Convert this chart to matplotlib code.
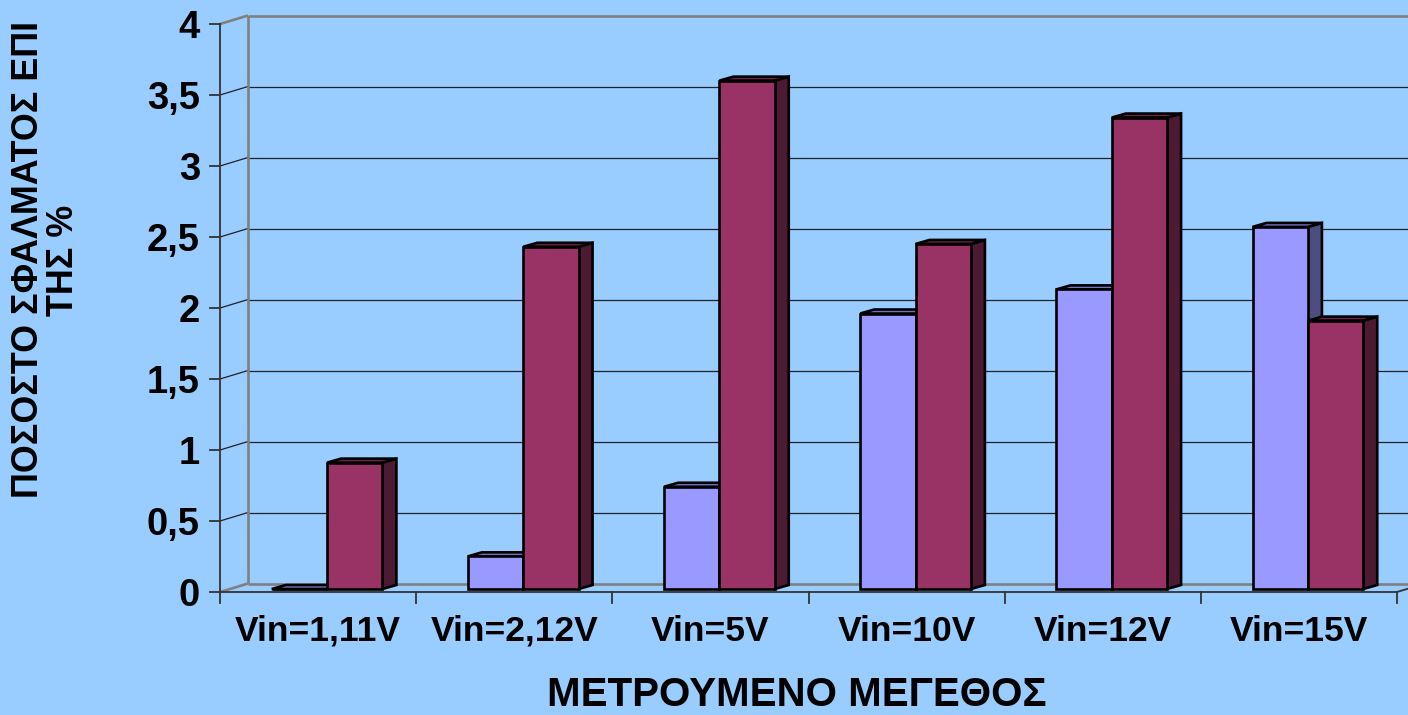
import matplotlib
matplotlib.use("Agg")
import matplotlib.pyplot as plt
from matplotlib.patches import Polygon
from matplotlib.transforms import offset_copy

# ---- data -------------------------------------------------------------
categories = ["Vin=1,11V", "Vin=2,12V", "Vin=5V", "Vin=10V", "Vin=12V", "Vin=15V"]
series_a = [0.0, 0.23, 0.72, 1.94, 2.11, 2.55]
series_b = [0.89, 2.41, 3.58, 2.43, 3.32, 1.89]
y_ticks = [0, 0.5, 1, 1.5, 2, 2.5, 3, 3.5, 4]
y_tick_labels = ["0", "0,5", "1", "1,5", "2", "2,5", "3", "3,5", "4"]
x_title = "ΜΕΤΡΟΥΜΕΝΟ ΜΕΓΕΘΟΣ"
y_title = ["ΠΟΣΟΣΤΟ ΣΦΑΛΜΑΤΟΣ ΕΠΙ", "ΤΗΣ %"]

# ---- styling ----------------------------------------------------------
BG = "#99CCFF"
COL_A = dict(front="#9999FF", side="#4D4D80", top="#7373C6")
COL_B = dict(front="#993366", side="#4D1A33", top="#6B2347")
GRID = "#222222"
WALL = "#808080"
FONT = "Liberation Sans"

W, H, DPI = 1408, 715, 100
fig = plt.figure(figsize=(W / DPI, H / DPI), dpi=DPI, facecolor=BG)

# front plane of the 3-D box (pixel edges)
L, R, T, B = 220, 1397, 24, 592
ax = fig.add_axes([L / W, 1 - B / H, (R - L) / W, (B - T) / H])
ax.set_xlim(0, len(categories))
ax.set_ylim(0, 4)
ax.set_axis_off()
ax.patch.set_visible(False)

px_x = (R - L) / len(categories)
px_y = (B - T) / 4.0


def off(dx_px, dy_px):
    """pixel offset -> data units"""
    return dx_px / px_x, dy_px / px_y


n = len(categories)
DX, DY = off(28, 8.5)          # full depth of the floor
xmax = n + DX

# ---- back wall, side wall and floor -----------------------------------
for v in y_ticks:
    if v in (0, 4):
        continue
    ax.plot([DX, xmax], [v + DY, v + DY], color=GRID, lw=0.9, zorder=1, clip_on=False)
    ax.plot([0, DX], [v, v + DY], color=GRID, lw=0.9, zorder=1, clip_on=False)

wall_kw = dict(color=WALL, lw=1.9, zorder=1.5, clip_on=False, solid_capstyle="butt")
ax.plot([DX, xmax], [4 + DY, 4 + DY], **wall_kw)
ax.plot([DX, xmax], [DY, DY], **wall_kw)
ax.plot([DX, DX], [DY, 4 + DY], **wall_kw)
ax.plot([0, DX], [4, 4 + DY], **wall_kw)
ax.plot([0, DX], [0, DY], **wall_kw)

# ---- front axes ---------------------------------------------------------
axis_kw = dict(color="#333333", lw=1.3, zorder=2, clip_on=False)
ax.plot([0, 0], [0, 4], **axis_kw)
ax.plot([0, n], [0, 0], **axis_kw)
ax.plot([n, n + DX], [0, DY], **axis_kw)
tx, _ = off(10, 0)
for v in y_ticks:
    ax.plot([-tx, 0], [v, v], **axis_kw)
_, ty = off(0, 11)
for i in range(n + 1):
    ax.plot([i, i], [0, -ty], **axis_kw)

# ---- bars ---------------------------------------------------------------
fx, fy = off(9, 3)             # front face of the bars
bx, by = off(23, 7)            # back face of the bars
ddx, ddy = bx - fx, by - fy
wbar = 0.282
gap = (1 - 2 * wbar) / 2
EDGE = dict(edgecolor="black", linewidth=1.9, joinstyle="miter")

for s, (vals, col) in enumerate([(series_a, COL_A), (series_b, COL_B)]):
    xs = [i + gap + s * wbar + fx for i in range(n)]
    z = 3 + 2 * s
    for x0, v in zip(xs, vals):
        top = fy + v
        side = [(x0 + wbar, fy), (x0 + wbar + ddx, fy + ddy),
                (x0 + wbar + ddx, top + ddy), (x0 + wbar, top)]
        lid = [(x0, top), (x0 + wbar, top),
               (x0 + wbar + ddx, top + ddy), (x0 + ddx, top + ddy)]
        ax.add_patch(Polygon(side, closed=True, facecolor=col["side"], zorder=z,
                             clip_on=False, **EDGE))
        ax.add_patch(Polygon(lid, closed=True, facecolor=col["top"], zorder=z,
                             clip_on=False, **EDGE))
    ax.bar(xs, vals, width=wbar, bottom=fy, align="edge", color=col["front"],
           zorder=z + 1, clip_on=False, **EDGE)

# ---- labels -------------------------------------------------------------
txt = dict(fontfamily=FONT, fontweight="bold", color="black")
ylab_tr = offset_copy(ax.transData, fig=fig, x=-20, y=-14, units="dots")
for v, lab in zip(y_ticks, y_tick_labels):
    ax.text(0, v, lab, transform=ylab_tr, ha="right", va="baseline", fontsize=27.5, **txt)

xlab_tr = offset_copy(ax.transData, fig=fig, x=0, y=-49, units="dots")
for i, lab in enumerate(categories):
    ax.text(i + 0.5, 0, lab, transform=xlab_tr, ha="center", va="baseline",
            fontsize=25.5, **txt)

fig.text(797 / W, 1 - 706 / H, x_title, ha="center", va="baseline", fontsize=29, **txt)
fig.text(38 / W, 1 - 260 / H, y_title[0], rotation=90, rotation_mode="anchor",
         ha="center", va="baseline", fontsize=25.8, **txt)
fig.text(73 / W, 1 - 260 / H, y_title[1], rotation=90, rotation_mode="anchor",
         ha="center", va="baseline", fontsize=25.8, **txt)

fig.savefig("out.png", dpi=DPI, facecolor=BG)
